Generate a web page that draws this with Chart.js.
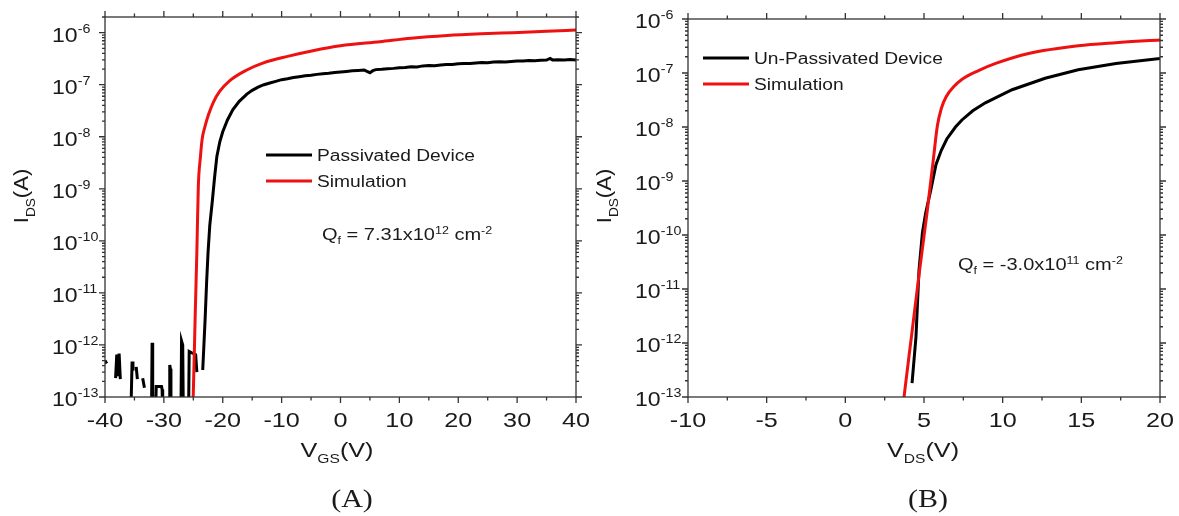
<!DOCTYPE html>
<html>
<head>
<meta charset="utf-8">
<script src="https://cdn.jsdelivr.net/npm/chart.js@4.4.1/dist/chart.umd.min.js"></script>
<style>
  body { margin: 0; background: #fff; }
  canvas { position: absolute; top: 0; }
</style>
</head>
<body>
<canvas id="chartA" width="590" height="516" style="left:0"></canvas>
<canvas id="chartB" width="589" height="516" style="left:590px"></canvas>
<script>
// (A) passivated device, I_DS vs V_GS  (null = no reading, breaks the line)
const vgsPassivated = [
  -40, -39.7, -39.5,
  -38.2, -38.0, -37.8, -37.6, -37.4, -37.2,
  -35.6, -35.4, -35.25, -35.1,
  -34.7, -34.5, -34.3,
  -33.6, -33.3, -33.1,
  -32.1, -32.0, -31.9,
  -31.4, -31.3, -30.4, -30.3, -30.2,
  -29.1, -29.0, -28.9, -28.8,
  -27.1, -27.0, -26.8, -26.7,
  -25.8, -25.7, -25.2, -24.6, -24.4, -24.2,
  -23.4, -23.2, -23.0, -22.75, -22.5, -22.2, -21.8, -21.4, -21.0, -20.5, -20.0,
  -19.2, -18.3, -17.2, -15.9, -15,
  -14, -13, -12, -11, -10, -9, -8, -7, -6, -5, -4, -3, -2, -1, 0,
  1, 2, 3, 4, 4.5, 5, 5.5, 6, 7, 8, 9, 10, 11, 12, 13, 14, 15, 16, 17, 18, 19, 20,
  21, 22, 23, 24, 25, 26, 27, 28, 29, 30, 31, 32, 33, 34, 35, 35.6, 36, 37, 38, 39, 40
];
const idsPassivated = [
  5e-13, 4.4e-13, null,
  2.3e-13, 6.5e-13, 2.5e-13, 6.8e-13, 2.2e-13, null,
  5e-14, 4.8e-13, 3.2e-13, null,
  3.8e-13, 2.2e-13, null,
  2.3e-13, 1.5e-13, null,
  5e-14, 1.1e-12, 5e-14,
  5e-14, 1.6e-13, 1.6e-13, 1.4e-13, 5e-14,
  5e-14, 4.1e-13, 3.5e-13, 5e-14,
  5e-14, 1.2e-12, 1e-12, 5e-14,
  5e-14, 7.5e-13, 7e-13, 6.5e-13, 3e-13, null,
  3.3e-13, 1e-12, 3e-12, 1.5e-11, 5.9e-11, 2e-10, 5.4e-10, 1.6e-9, 4.2e-9, 8e-9, 1.25e-8,
  2.1e-8, 3.3e-8, 4.8e-8, 6.6e-8, 7.8e-8,
  9.0e-8, 1.00e-7, 1.08e-7, 1.16e-7, 1.25e-7, 1.30e-7, 1.37e-7, 1.42e-7, 1.48e-7, 1.52e-7,
  1.58e-7, 1.62e-7, 1.66e-7, 1.72e-7, 1.76e-7,
  1.80e-7, 1.85e-7, 1.88e-7, 1.92e-7, 1.80e-7, 1.70e-7, 1.86e-7, 1.95e-7, 1.98e-7, 2.03e-7,
  2.06e-7, 2.12e-7, 2.15e-7, 2.22e-7, 2.20e-7, 2.30e-7, 2.33e-7, 2.32e-7, 2.40e-7, 2.45e-7,
  2.44e-7, 2.52e-7, 2.56e-7, 2.55e-7, 2.62e-7, 2.66e-7, 2.64e-7, 2.72e-7, 2.75e-7, 2.73e-7,
  2.80e-7, 2.84e-7, 2.85e-7, 2.92e-7, 2.90e-7, 2.95e-7, 2.98e-7, 3.20e-7, 3.00e-7, 3.02e-7,
  2.98e-7, 3.04e-7, 3.00e-7
];
const vgsSimA = [-25.2, -25.0, -24.7, -24.4, -24.15, -23.8, -23.5, -23.0, -22.4, -21.6,
  -20.5, -18.8, -16, -13.2, -9, -4.7, 0, 6.7, 12, 18.1, 24, 29.3, 35, 40];
const idsSimA = [5e-14, 1.2e-13, 3e-12, 6e-11, 1.1e-9, 4e-9, 9e-9, 1.6e-8, 2.7e-8, 4.6e-8,
  7.5e-8, 1.2e-7, 1.9e-7, 2.6e-7, 3.5e-7, 4.5e-7, 5.6e-7, 6.7e-7, 7.8e-7, 8.8e-7, 9.5e-7,
  1.0e-6, 1.06e-6, 1.12e-6];

// (B) un-passivated device, I_DS vs V_DS
const vdsUnpassivated = [4.24, 4.49, 4.68, 4.9, 5.1, 5.44, 5.76, 6.1, 6.45, 7.0, 7.41, 8.1,
  8.9, 10.6, 12.7, 14.8, 17.2, 20];
const idsUnpassivated = [1.8e-13, 1.3e-12, 2.2e-11, 1.1e-10, 2.5e-10, 7e-10, 2e-9, 3.7e-9,
  6e-9, 1e-8, 1.35e-8, 2e-8, 2.8e-8, 4.9e-8, 8e-8, 1.15e-7, 1.5e-7, 1.85e-7];
const vdsSimB = [3.62, 3.73, 4.2, 4.7, 5.2, 5.6, 5.85, 6.1, 6.4, 6.9, 7.4, 8.5, 9.6, 11.65,
  14.8, 17.2, 20];
const idsSimB = [5e-14, 1e-13, 1.3e-12, 2e-11, 2.7e-10, 2.6e-9, 1.05e-8, 2.2e-8, 3.6e-8,
  5.6e-8, 7.6e-8, 1.12e-7, 1.52e-7, 2.3e-7, 3.2e-7, 3.65e-7, 4.1e-7];

// tick labels
const xTicksA = [-40, -30, -20, -10, 0, 10, 20, 30, 40];
const xTicksB = [-10, -5, 0, 5, 10, 15, 20];
const yDecades = [-13, -12, -11, -10, -9, -8, -7, -6];

const SANS = '"Liberation Sans", Arial, sans-serif';
const SERIF = '"Liberation Serif", "Times New Roman", serif';
const INK = '#1a1a1a';
const SX = 1.2; // the figure is a bit wider than tall

const toPoints = (xs, ys) => xs.map((x, i) => ({ x, y: ys[i] }));

// draws a run of text pieces (normal / sub / superscript), returns width
function textRun(ctx, parts, x, y, align, sx) {
  const widths = parts.map(p => {
    ctx.font = `${p.size}px ${p.family || SANS}`;
    return ctx.measureText(p.t).width * sx;
  });
  const total = widths.reduce((s, w) => s + w, 0);
  let cx = align === 'center' ? x - total / 2 : align === 'right' ? x - total : x;
  parts.forEach((p, i) => {
    ctx.save();
    ctx.font = `${p.size}px ${p.family || SANS}`;
    ctx.textAlign = 'left';
    ctx.textBaseline = 'alphabetic';
    ctx.translate(cx, y + (p.dy || 0));
    ctx.scale(sx, 1);
    ctx.fillText(p.t, 0, 0);
    ctx.restore();
    cx += widths[i];
  });
  return total;
}

const frameAxes = {
  id: 'frameAxes',
  afterDraw(chart, args, o) {
    const { ctx, chartArea: a, scales: { x, y } } = chart;
    ctx.save();
    ctx.fillStyle = INK;
    ctx.strokeStyle = '#333';
    ctx.lineWidth = 1.3;
    ctx.strokeRect(a.left, a.top, a.right - a.left, a.bottom - a.top);

    // x ticks, bottom and top
    const n = Math.round((x.max - x.min) / o.xMinor);
    ctx.beginPath();
    for (let k = 0; k <= n; k++) {
      const v = x.min + k * o.xMinor;
      const px = x.getPixelForValue(v);
      const len = o.xTicks.includes(v) ? 6 : 3.5;
      ctx.moveTo(px, a.bottom); ctx.lineTo(px, a.bottom + len);
      ctx.moveTo(px, a.top); ctx.lineTo(px, a.top - len);
    }
    // y ticks (log), left and right
    yDecades.forEach(d => {
      for (let m = 1; m <= 9; m++) {
        const v = m * Math.pow(10, d);
        if (v > y.max * 1.001) break;
        const py = y.getPixelForValue(v);
        const len = m === 1 ? 6 : 3;
        ctx.moveTo(a.left, py); ctx.lineTo(a.left - len, py);
        ctx.moveTo(a.right, py); ctx.lineTo(a.right + len, py);
      }
    });
    ctx.stroke();

    o.xTicks.forEach(v => {
      textRun(ctx, [{ t: String(v), size: 21 }], x.getPixelForValue(v), a.bottom + 30, 'center', SX);
    });
    yDecades.forEach(d => {
      const py = y.getPixelForValue(Math.pow(10, d));
      textRun(ctx, [{ t: '10', size: 21 }, { t: String(d), size: 13, dy: -9 }],
        a.left - 53, py + 9, 'left', 1.1);
    });

    // axis titles
    textRun(ctx, [{ t: 'V', size: 21 }, { t: o.xSub, size: 13, dy: 6 }, { t: '(V)', size: 21 }],
      o.xTitleX, a.bottom + 60, 'center', SX);
    textRun(ctx, [{ t: o.panel, size: 25, family: SERIF }], o.panelX, a.bottom + 110, 'center', SX);
    ctx.save();
    ctx.translate(a.left - 77, 196);
    ctx.rotate(-Math.PI / 2);
    textRun(ctx, [{ t: 'I', size: 21 }, { t: 'DS', size: 13, dy: 7 }, { t: '(A)', size: 21 }], 0, 0, 'center', 1.05);
    ctx.restore();

    // legend
    chart.data.datasets.forEach((ds, i) => {
      const ly = o.legend.y + i * 26;
      ctx.save();
      ctx.strokeStyle = ds.borderColor;
      ctx.lineWidth = 3;
      ctx.beginPath();
      ctx.moveTo(o.legend.x, ly); ctx.lineTo(o.legend.x + 46, ly);
      ctx.stroke();
      ctx.restore();
      textRun(ctx, [{ t: ds.label, size: 16 }], o.legend.x + 51, ly + 6, 'left', SX);
    });

    // fixed-charge note
    textRun(ctx, [
      { t: 'Q', size: 16 }, { t: 'f', size: 10, dy: 4 }, { t: ' = ' + o.note[0], size: 16 },
      { t: o.note[1], size: 10, dy: -6 }, { t: ' cm', size: 16 }, { t: '-2', size: 10, dy: -6 }
    ], o.noteAt[0], o.noteAt[1], 'left', 1.25);
    ctx.restore();
  }
};

function makeChart(id, cfg) {
  return new Chart(document.getElementById(id), {
    type: 'line',
    data: {
      datasets: [
        { label: cfg.blackLabel, data: toPoints(cfg.bx, cfg.by), borderColor: '#000',
          tension: 0, order: 1 },
        { label: 'Simulation', data: toPoints(cfg.rx, cfg.ry), borderColor: '#ee1111',
          cubicInterpolationMode: 'monotone', order: 0 }
      ]
    },
    options: {
      responsive: false,
      animation: false,
      devicePixelRatio: 1,
      layout: { padding: cfg.padding },
      elements: { point: { radius: 0 }, line: { borderWidth: 3 } },
      scales: {
        x: { type: 'linear', min: cfg.xMin, max: cfg.xMax, display: false },
        y: { type: 'logarithmic', min: 1e-13, max: cfg.yMax, display: false }
      },
      plugins: { legend: { display: false }, tooltip: { enabled: false }, frameAxes: cfg.axes }
    },
    plugins: [frameAxes]
  });
}

makeChart('chartA', {
  blackLabel: 'Passivated Device',
  bx: vgsPassivated, by: idsPassivated, rx: vgsSimA, ry: idsSimA,
  xMin: -40, xMax: 40, yMax: 2e-6,
  padding: { left: 105, right: 14, top: 17, bottom: 119 },
  axes: { xTicks: xTicksA, xMinor: 5, xSub: 'GS', xTitleX: 337, panel: '(A)', panelX: 352,
    legend: { x: 266, y: 155 }, note: ['7.31x10', '12'], noteAt: [322, 240] }
});

makeChart('chartB', {
  blackLabel: 'Un-Passivated Device',
  bx: vdsUnpassivated, by: idsUnpassivated, rx: vdsSimB, ry: idsSimB,
  xMin: -10, xMax: 20, yMax: 1e-6,
  padding: { left: 98, right: 19, top: 19, bottom: 119 },
  axes: { xTicks: xTicksB, xMinor: 2.5, xSub: 'DS', xTitleX: 333, panel: '(B)', panelX: 338,
    legend: { x: 113, y: 58 }, note: ['-3.0x10', '11'], noteAt: [368, 270] }
});
</script>
</body>
</html>
